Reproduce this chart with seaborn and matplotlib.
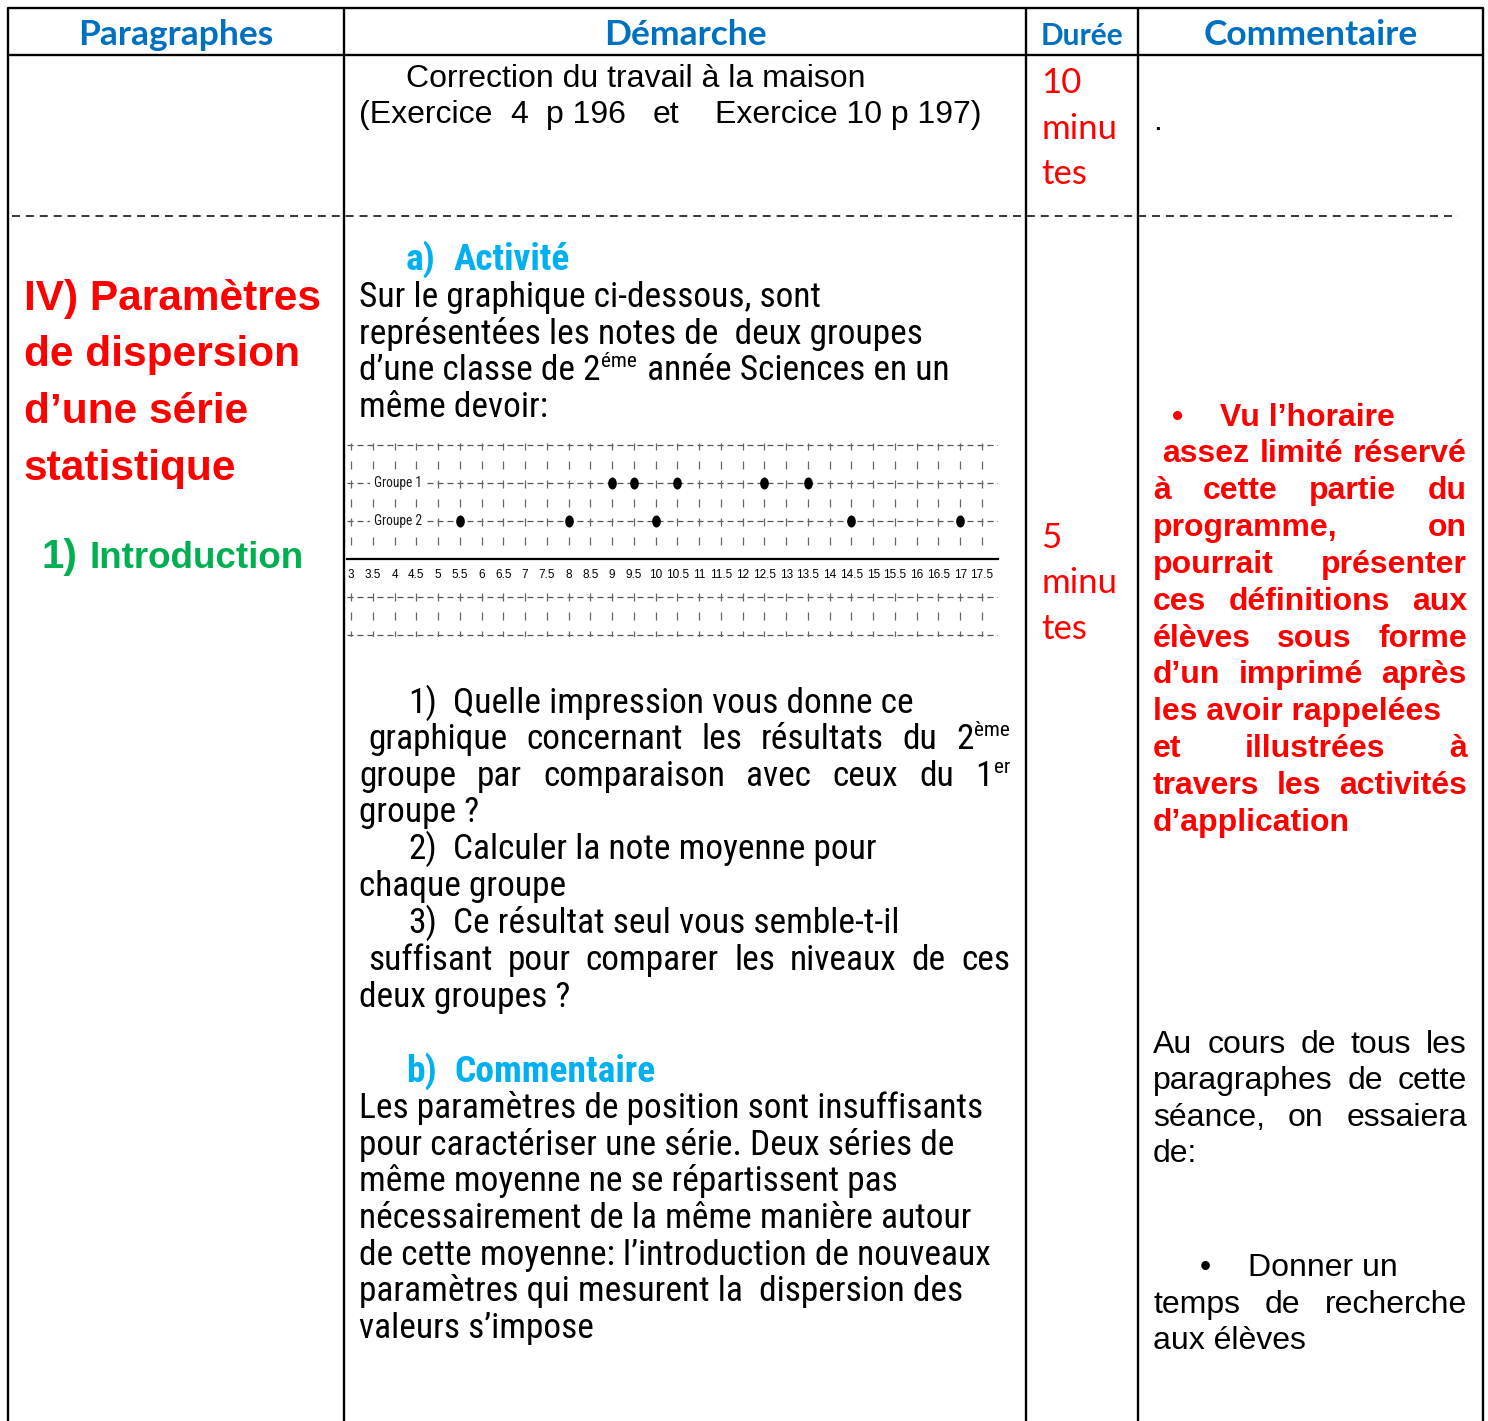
import numpy as np
import pandas as pd
import matplotlib
matplotlib.use("Agg")
import matplotlib.pyplot as plt
import matplotlib.path as mpath
from matplotlib import font_manager as fm
import seaborn as sns

# ── Data ─────────────────────────────────────────────────────
groupe1_notes = [9, 9.5, 10.5, 12.5, 13.5]
groupe2_notes = [5.5, 8, 10, 14.5, 17]
group_names = ["Groupe 1", "Groupe 2"]
group_rows = [1, 0]                      # strip slot of each group
grid_rows = [2, 1, 0, -2, -3]            # dashed horizontal guides
note_ticks = [3, 3.5, 4, 4.5, 5, 5.5, 6, 6.5, 7, 7.5, 8, 8.5, 9, 9.5, 10,
              10.5, 11, 11.5, 12, 12.5, 13, 13.5, 14, 14.5, 15, 15.5, 16,
              16.5, 17, 17.5]

headers = ["Paragraphes", "Démarche", "Durée", "Commentaire"]
durees = [["10", "minu", "tes"], ["5", "minu", "tes"]]

BLUE, RED, GREEN, CYAN = "#0070C0", "#FF0000", "#00B050", "#00B0F0"

sns.set_theme(style="white")
plt.rcParams["font.family"] = ["Liberation Sans", "DejaVu Sans"]

# ── Pick a condensed Arial-like face if one is installed ────
installed = fm.fontManager.ttflist
names = {f.name for f in installed}
COND = None
for n in ["Liberation Sans Narrow", "Arial Narrow", "Roboto Condensed",
          "Open Sans Condensed", "DejaVu Sans Condensed"]:
    if n in names:
        COND = {"family": n}
        break
if COND is None:
    for fam in ["Noto Sans", "Open Sans", "Roboto"]:
        if any(f.name == fam and str(f.stretch) in ("condensed", "semi-condensed")
               for f in installed):
            COND = {"family": fam, "fontstretch": "condensed"}
            break

W, H = 1488, 1421
fig = plt.figure(figsize=(W / 100, H / 100), dpi=100, facecolor="white")
page = fig.add_axes([0, 0, 1, 1])
page.set_xlim(0, W)
page.set_ylim(H, 0)
page.axis("off")
renderer = fig.canvas.get_renderer()


def put(x, y, s, **kw):
    kw.setdefault("va", "baseline")
    return page.text(x, y, s, **kw)


def wid(t):
    return t.get_window_extent(renderer).width


def fit_size(text, target, **kw):
    t = put(0, 0, text, fontsize=20, **kw)
    w = wid(t)
    t.remove()
    return 20 * target / w


BODY = dict(family="Liberation Sans", fontsize=23, color="black")
RBOLD = dict(family="Liberation Sans", fontsize=23, weight="bold", color=RED)
if COND:
    DBODY = dict(COND, color="black",
                 fontsize=fit_size("Les paramètres de position sont insuffisants", 623, **COND))
    HEAD = dict(COND, weight="bold", color=CYAN,
                fontsize=fit_size("Commentaire", 200, weight="bold", **COND))
    SUP = dict(COND, color="black", fontsize=DBODY["fontsize"] * 0.6)
else:
    DBODY = dict(BODY)
    HEAD = dict(family="Liberation Sans", weight="bold", fontsize=23, color=CYAN)
    SUP = dict(family="Liberation Sans", fontsize=14, color="black")
SMALL = COND if COND else {"family": "Liberation Sans"}


def justify(words, x0, x1, y, **kw):
    ts = [put(x0, y, w, **kw) for w in words]
    ws = [wid(t) for t in ts]
    gap = (x1 - x0 - sum(ws)) / max(len(ws) - 1, 1)
    x = x0
    for t, w in zip(ts, ws):
        t.set_x(x)
        x += w + gap
    return ts


def sup_width(s):
    t = put(0, 0, s, **SUP)
    w = wid(t)
    t.remove()
    return w


def sup_after(t, s, rise=13):
    x = t.get_position()[0] + wid(t) + 1
    return put(x, t.get_position()[1] - rise, s, **SUP)


# ── Table frame ──────────────────────────────────────────────
cols = [8, 344, 1026, 1138, 1483]
for x in cols:
    page.plot([x, x], [8, H], color="black", lw=1.7, solid_capstyle="butt")
page.plot([8, 1483], [8, 8], color="black", lw=1.7)
page.plot([8, 1483], [55, 55], color="black", lw=1.7)
page.plot([12, 1458], [216, 216], color="black", lw=1.1,
          linestyle=(0, (5.2, 3.9)))

# ── Header row ───────────────────────────────────────────────
for i, h in enumerate(headers):
    cx = (cols[i] + cols[i + 1]) / 2
    put(cx, 45, h, ha="center", family="Lato", weight="bold", color=BLUE,
        fontsize=21.5 if h == "Durée" else 25.5)

# ── Row 1 ────────────────────────────────────────────────────
put(406, 87, "Correction du travail à la maison", **BODY)
for x, s in zip([359, 510, 546, 653, 715],
                ["(Exercice", "4", "p 196", "et", "Exercice 10 p 197)"]):
    put(x, 123, s, **BODY)
for txt, y in zip(durees[0], [93, 139, 184]):
    put(1041, y, txt, family="Lato", fontsize=25, color=RED)
put(1153, 130, ".", **BODY)

# ── Row 2 : left column ──────────────────────────────────────
for s, y in zip(["IV) Paramètres", "de dispersion", "d’une série", "statistique"],
                [310, 366, 423, 480]):
    put(24, y, s, family="Liberation Sans", weight="bold", fontsize=30.5, color=RED)
put(42, 568, "1)", family="Liberation Sans", weight="bold", fontsize=29, color=GREEN)
put(90, 568, "Introduction", family="Liberation Sans", weight="bold",
    fontsize=26.5, color=GREEN)

# ── Row 2 : Démarche ─────────────────────────────────────────
put(406, 270, "a)", **HEAD)
put(454, 270, "Activité", **HEAD)
put(359, 307, "Sur le graphique ci-dessous, sont", **DBODY)
put(359, 344, "représentées les notes de  deux groupes", **DBODY)
t = put(359, 380, "d’une classe de 2", **DBODY)
s = sup_after(t, "éme")
put(s.get_position()[0] + wid(s) + 2, 380, " année Sciences en un", **DBODY)
put(359, 417, "même devoir:", **DBODY)

put(408, 713, "1)", **DBODY)
put(453, 713, "Quelle impression vous donne ce", **DBODY)
ts = justify(["graphique", "concernant", "les", "résultats", "du", "2"],
             368, 1010 - sup_width("ème") - 1, 749, **DBODY)
sup_after(ts[-1], "ème")
ts = justify(["groupe", "par", "comparaison", "avec", "ceux", "du", "1"],
             359, 1010 - sup_width("er") - 1, 786, **DBODY)
sup_after(ts[-1], "er")
put(359, 822, "groupe ?", **DBODY)
put(408, 859, "2)", **DBODY)
put(453, 859, "Calculer la note moyenne pour", **DBODY)
put(359, 896, "chaque groupe", **DBODY)
put(408, 933, "3)", **DBODY)
put(453, 933, "Ce résultat seul vous semble-t-il", **DBODY)
justify(["suffisant", "pour", "comparer", "les", "niveaux", "de", "ces"],
        368, 1010, 970, **DBODY)
put(359, 1007, "deux groupes ?", **DBODY)

put(406, 1082, "b)", **HEAD)
put(454, 1082, "Commentaire", **HEAD)
comment_lines = [
    "Les paramètres de position sont insuffisants",
    "pour caractériser une série. Deux séries de",
    "même moyenne ne se répartissent pas",
    "nécessairement de la même manière autour",
    "de cette moyenne: l’introduction de nouveaux",
    "paramètres qui mesurent la  dispersion des",
    "valeurs s’impose",
]
for i, s in enumerate(comment_lines):
    put(359, 1118 + i * 36.7, s, **DBODY)

# ── Row 2 : Durée ────────────────────────────────────────────
for txt, y in zip(durees[1], [548, 593, 639]):
    put(1041, y, txt, family="Lato", fontsize=25, color=RED)

# ── Row 2 : Commentaire ──────────────────────────────────────
put(1172, 426, "•", **RBOLD)
put(1220, 426, "Vu l’horaire", **RBOLD)
red_rows = [
    (["assez", "limité", "réservé"], 1162, 462),
    (["à", "cette", "partie", "du"], 1153, 499),
    (["programme,", "on"], 1153, 536),
    (["pourrait", "présenter"], 1153, 573),
    (["ces", "définitions", "aux"], 1153, 610),
    (["élèves", "sous", "forme"], 1153, 647),
    (["d’un", "imprimé", "après"], 1153, 683),
    (["et", "illustrées", "à"], 1153, 757),
    (["travers", "les", "activités"], 1153, 794),
]
for words, x0, y in red_rows:
    justify(words, x0, 1467, y, **RBOLD)
put(1153, 720, "les avoir rappelées", **RBOLD)
put(1153, 831, "d’application", **RBOLD)

justify(["Au", "cours", "de", "tous", "les"], 1153, 1467, 1053, **BODY)
justify(["paragraphes", "de", "cette"], 1153, 1467, 1089, **BODY)
justify(["séance,", "on", "essaiera"], 1153, 1467, 1126, **BODY)
put(1153, 1162, "de:", **BODY)
put(1200, 1276, "•", **BODY)
put(1248, 1276, "Donner un", **BODY)
justify(["temps", "de", "recherche"], 1153, 1467, 1313, **BODY)
put(1153, 1349, "aux élèves", **BODY)

# ── Dot chart (inset) ────────────────────────────────────────
x0, x1, y0, y1 = 347, 998, 443, 637
ax = fig.add_axes([x0 / W, 1 - y1 / H, (x1 - x0) / W, (y1 - y0) / H])
xlo, xhi = 2.908, 17.868
ylo, yhi = -3.053, 2.053

df = pd.DataFrame({
    "note": groupe1_notes + groupe2_notes,
    "groupe": [group_names[0]] * len(groupe1_notes) + [group_names[1]] * len(groupe2_notes),
})
df["rang"] = df["groupe"].map(dict(zip(group_names, group_rows)))

circle = mpath.Path.unit_circle()
ellipse = mpath.Path(circle.vertices * [0.72, 1.0], circle.codes)

ax.hlines(grid_rows, xlo, xhi, colors="#555555", lw=0.9,
          linestyles=[(0, (4.8, 3.2))], zorder=1)
ax.vlines(note_ticks, -0.92, yhi, colors="#666666", lw=0.9,
          linestyles=[(6.4, (6.4, 8.8))], zorder=1)
ax.vlines(note_ticks, ylo, -1.66, colors="#666666", lw=0.9,
          linestyles=[(1.6, (6.4, 8.8))], zorder=1)

sns.scatterplot(data=df, x="note", y="rang", color="black", marker=ellipse,
                s=75, edgecolor="black", linewidth=0, zorder=5, legend=False, ax=ax)

tick_size = fit_size("10.5", 20.5, **SMALL)
label_size = fit_size("Groupe 1", 48, **SMALL)

for name, row in zip(group_names, group_rows):
    ax.text(3.52, row, name, va="center", ha="left", color="#1a1a1a",
            fontsize=label_size, zorder=4,
            bbox=dict(fc="white", ec="none", pad=2.5), **SMALL)

ax.set_xlim(xlo, xhi)
ax.set_ylim(ylo, yhi)
ax.set_xticks(note_ticks)
ax.set_xticklabels([f"{v:g}" for v in note_ticks])
ax.tick_params(axis="x", length=0, pad=7, colors="black", labelsize=tick_size)
for lbl in ax.get_xticklabels():
    lbl.update(dict(SMALL, fontsize=tick_size))
ax.set_yticks([])
ax.set_xlabel("")
ax.set_ylabel("")
for side in ["top", "left", "right"]:
    ax.spines[side].set_visible(False)
ax.spines["bottom"].set_position(("data", -1))
ax.spines["bottom"].set_color("black")
ax.spines["bottom"].set_linewidth(1.6)
ax.set_facecolor("none")
ax.grid(False)

fig.savefig("out.png", dpi=100, facecolor="white")
